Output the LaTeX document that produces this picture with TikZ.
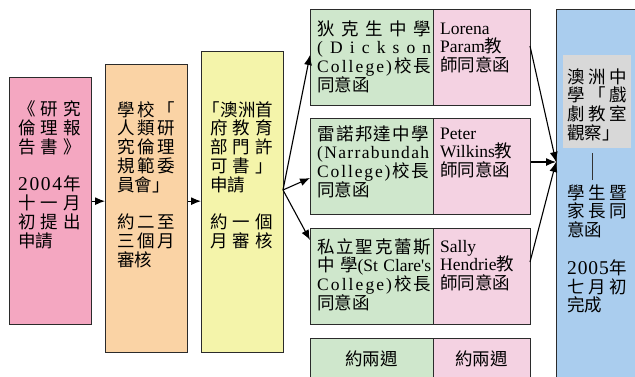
\documentclass[tikz,border=0pt]{standalone}
\usepackage{fontspec}
\setmainfont{Noto Sans CJK TC}
\newfontfamily\lat[Ligatures=TeXOff]{Liberation Serif}
\usetikzlibrary{arrows.meta}
\definecolor{cpink}{HTML}{F4A7C1}
\definecolor{corange}{HTML}{FAD3A5}
\definecolor{cyellow}{HTML}{F4F4AA}
\definecolor{cgreen}{HTML}{CFE7CC}
\definecolor{cpinkl}{HTML}{F4D2E2}
\definecolor{cblue}{HTML}{AACDEE}
\definecolor{cgray}{HTML}{D8D8D8}
\definecolor{cline}{HTML}{2B2B2B}
\newcommand\fs{\fontsize{17.5}{18.8}\selectfont}
\newcommand\J[1]{\makebox[\linewidth][s]{#1}}
\newcommand\TB[2]{\parbox[t]{#1}{\fs\raggedright #2}}
\newcommand\bigdig{\lat\fontsize{19.5}{18.8}\selectfont}
\tikzset{
  box/.style={draw=cline, line width=1.3pt, inner sep=0pt, anchor=north west},
  txt/.style={anchor=base west, inner sep=0pt},
  arr/.style={-{Latex[length=10pt,width=8pt]}, line width=1.1pt, draw=black},
}
\begin{document}
\begin{tikzpicture}[x=1pt,y=-1pt]
\useasboundingbox (0,0) rectangle (635,376);
\clip (0,0) rectangle (635,376);
% main boxes
\node[box, fill=cpink, minimum width=82pt, minimum height=247pt] (b1) at (9,77) {};
\node[box, fill=corange, minimum width=82pt, minimum height=288pt] (b2) at (105,64) {};
\node[box, fill=cyellow, minimum width=82pt, minimum height=301pt] (b3) at (201,51) {};
% school boxes
\node[box, fill=cgreen, minimum width=123pt, minimum height=96pt] (gA) at (310,9) {};
\node[box, fill=cpinkl, minimum width=97pt, minimum height=96pt] (pA) at (433,9) {};
\node[box, fill=cgreen, minimum width=123pt, minimum height=96pt] (gB) at (310,118) {};
\node[box, fill=cpinkl, minimum width=97pt, minimum height=96pt] (pB) at (433,118) {};
\node[box, fill=cgreen, minimum width=123pt, minimum height=96pt] (gC) at (310,228) {};
\node[box, fill=cpinkl, minimum width=97pt, minimum height=96pt] (pC) at (433,228) {};
\node[box, fill=cgreen, minimum width=123pt, minimum height=60pt] (gD) at (310,338) {};
\node[box, fill=cpinkl, minimum width=97pt, minimum height=60pt] (pD) at (433,338) {};
% final box
\node[box, fill=cblue, minimum width=100pt, minimum height=390pt] (bl) at (556,9) {};
\node[anchor=north west, fill=cgray, inner sep=0pt, minimum width=68pt, minimum height=93pt] (gr) at (563,55) {};
% texts
\node[txt] (t1) at (18,115.5) {\TB{63pt}{%
\J{《\hfil 研\hfil 究}\\
\J{倫\hfil 理\hfil 報}\\
\J{告\hfil 書\hfil 》}\\[18.8pt]
\J{{\bigdig 2\hfil 0\hfil 0\hfil 4}\hfil 年}\\
\J{十\hfil 一\hfil 月}\\
\J{初\hfil 提\hfil 出}\\
申請}};
\node[txt] (t2) at (117,116) {\TB{58pt}{%
\J{學\hfil 校\hfil 「}\\
\J{人\hfil 類\hfil 研}\\
\J{究\hfil 倫\hfil 理}\\
\J{規\hfil 範\hfil 委}\\
員會」\\[18.8pt]
\J{約\hfil 二\hfil 至}\\
\J{三\hfil 個\hfil 月}\\
審核}};
\node[txt] (t3) at (210,116) {\TB{63pt}{%
\J{\hbox to 10pt{\hss 「}\hfil 澳\hfil 洲\hfil 首}\\
\J{府\hfil 教\hfil 育}\\
\J{部\hfil 門\hfil 許}\\
\J{可\hfil 書\hfil 」}\\
申請\\[18.8pt]
\J{約\hfil 一\hfil 個}\\
\J{月\hfil 審\hfil 核}}};
\node[txt] (tgA) at (317,35) {\TB{114pt}{%
\J{狄\hfil 克\hfil 生\hfil 中\hfil 學}\\
\J{\lat (\hfil D\hfil i\hfil c\hfil k\hfil s\hfil o\hfil n}\\
\J{{\lat C\hfil o\hfil l\hfil l\hfil e\hfil g\hfil e\hfil )}\hfil 校\hfil 長}\\
同意函}};
\node[txt] (tpA) at (440,34) {\TB{88pt}{%
{\lat Lorena}\\
{\lat Param}教\\
師同意函}};
\node[txt] (tgB) at (317,140) {\TB{112pt}{%
\J{雷\hfil 諾\hfil 邦\hfil 達\hfil 中\hfil 學}\\
\J{\lat (\hfil N\hfil a\hfil r\hfil r\hfil a\hfil b\hfil u\hfil n\hfil d\hfil a\hfil h}\\
\J{{\lat C\hfil o\hfil l\hfil l\hfil e\hfil g\hfil e\hfil )}\hfil 校\hfil 長}\\
同意函}};
\node[txt] (tpB) at (440,139) {\TB{88pt}{%
{\lat Peter}\\
{\lat Wilkins}教\\
師同意函}};
\node[txt] (tgC) at (317,253) {\TB{114pt}{%
\J{私\hfil 立\hfil 聖\hfil 克\hfil 蕾\hfil 斯}\\
\J{中\hfil 學{\lat (St\hfil Clare's}}\\
\J{{\lat C\hfil o\hfil l\hfil l\hfil e\hfil g\hfil e\hfil )}\hfil 校\hfil 長}\\
同意函}};
\node[txt] (tpC) at (440,252) {\TB{88pt}{%
{\lat Sally}\\
{\lat Hendrie}教\\
師同意函}};
\node[anchor=base, inner sep=0pt, font=\fs] (tgD) at (371.5,365) {約兩週};
\node[anchor=base, inner sep=0pt, font=\fs] (tpD) at (481.5,365) {約兩週};
\node[txt] (tgr) at (567,83) {\TB{60pt}{%
\J{澳\hfil 洲\hfil 中}\\
\J{學\hfil 「\hfil 戲}\\
\J{劇\hfil 教\hfil 室}\\
觀察」}};
\node[txt] (tbl) at (567,199) {\TB{60pt}{%
\J{學\hfil 生\hfil 暨}\\
\J{家\hfil 長\hfil 同}\\
意函\\[18.8pt]
\J{{\bigdig 2\hfil 0\hfil 0\hfil 5}\hfil 年}\\
\J{七\hfil 月\hfil 初}\\
完成}};
\coordinate (vt) at (592,153);
\coordinate (vb) at (592,180);
\draw[line width=0.8pt, draw=black!80] (vt) -- (vb);
% connectors
\draw[arr] (b1.east) -- (b1.east -| b2.west);
\draw[arr] (b2.east |- b1.east) -- (b1.east -| b3.west);
\coordinate (fan) at (283,190);
\coordinate (tA) at (310,55);
\coordinate (tB) at (310,178);
\coordinate (tC) at (310,240);
\draw[arr] (fan) -- (tA);
\draw[arr] (fan) -- (tB);
\draw[arr] (fan) -- (tC);
\coordinate (sA) at (530,46);
\coordinate (sC) at (530,262);
\coordinate (tR) at (556,162);
\draw[arr] (sA) -- (tR);
\draw[arr] (pB.east |- tR) -- (tR);
\draw[arr] (sC) -- (tR);
\end{tikzpicture}
\end{document}
